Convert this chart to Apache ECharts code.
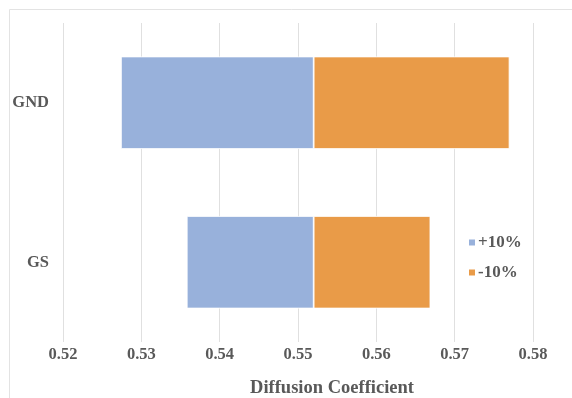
<!DOCTYPE html>
<html>
<head>
<meta charset="utf-8">
<script src="https://cdn.jsdelivr.net/npm/echarts@6/dist/echarts.min.js"></script>
<style>
  html, body { margin: 0; padding: 0; background: #fff; }
  #chart { width: 572px; height: 398px; }
</style>
</head>
<body>
<div id="chart"></div>
<script>
// Tornado chart: diffusion coefficient response to a ±10% parameter change
const categories = ['GND', 'GS'];
const baseValue = 0.552;
const plus10 = [0.5274, 0.5358];   // result with +10% parameter
const minus10 = [0.5770, 0.5669];  // result with -10% parameter
const xTicks = { min: 0.52, max: 0.58, step: 0.01 };

const FONT = '"Liberation Serif", "Times New Roman", serif';
const TEXT_COLOR = '#595959';

// Invisible offset up to the lower end, then the two coloured halves
const offset = categories.map((_, i) => Math.min(plus10[i], minus10[i]));
const bluePart = categories.map((_, i) => +(baseValue - plus10[i]).toFixed(6));
const orangePart = categories.map((_, i) => +(minus10[i] - baseValue).toFixed(6));

const chart = echarts.init(document.getElementById('chart'));
chart.setOption({
  animation: false,
  backgroundColor: '#ffffff',
  textStyle: { fontFamily: FONT },
  graphic: [{
    type: 'rect',
    silent: true,
    shape: { x: 9.5, y: 9.5, width: 620, height: 420 },
    style: { fill: 'none', stroke: '#E3E3E3', lineWidth: 1 }
  }],
  grid: {
    left: 63, right: 39, top: 23, bottom: 56,
    containLabel: false,
    outerBoundsMode: 'none'
  },
  legend: {
    orient: 'vertical',
    left: 462,
    top: 229,
    itemWidth: 8,
    itemHeight: 8,
    itemGap: 13,
    icon: 'rect',
    data: ['+10%', '-10%'],
    textStyle: { fontFamily: FONT, fontWeight: 'bold', fontSize: 17, color: TEXT_COLOR, padding: [0, 0, 0, -3] }
  },
  xAxis: {
    type: 'value',
    min: xTicks.min,
    max: xTicks.max,
    interval: xTicks.step,
    axisLine: { show: false },
    axisTick: { show: false },
    splitLine: { show: true, lineStyle: { color: '#E0E0E0', width: 1 } },
    axisLabel: {
      margin: 4,
      fontFamily: FONT, fontWeight: 'bold', fontSize: 16.5, color: TEXT_COLOR,
      formatter: v => v.toFixed(2)
    },
    name: 'Diffusion Coefficient',
    nameLocation: 'middle',
    nameGap: 37,
    nameTextStyle: {
      fontFamily: FONT, fontWeight: 'bold', fontSize: 18.5, color: TEXT_COLOR,
      padding: [0, 0, 0, 68]
    }
  },
  yAxis: {
    type: 'category',
    data: categories,
    inverse: true,
    axisLine: { show: false },
    axisTick: { show: false },
    splitLine: { show: false },
    axisLabel: {
      margin: 14,
      fontFamily: FONT, fontWeight: 'bold', fontSize: 16.5, color: TEXT_COLOR
    }
  },
  series: [
    {
      name: 'offset',
      type: 'bar',
      stack: 'tornado',
      data: offset,
      itemStyle: { color: 'transparent' },
      emphasis: { disabled: true },
      silent: true,
      barCategoryGap: '42%'
    },
    {
      name: '+10%',
      type: 'bar',
      stack: 'tornado',
      data: bluePart,
      itemStyle: { color: '#98B1DB', borderColor: '#ffffff', borderWidth: 0.8 },
      barCategoryGap: '42%'
    },
    {
      name: '-10%',
      type: 'bar',
      stack: 'tornado',
      data: orangePart,
      itemStyle: { color: '#E99B48', borderColor: '#ffffff', borderWidth: 0.8 },
      barCategoryGap: '42%'
    }
  ]
});
</script>
</body>
</html>
